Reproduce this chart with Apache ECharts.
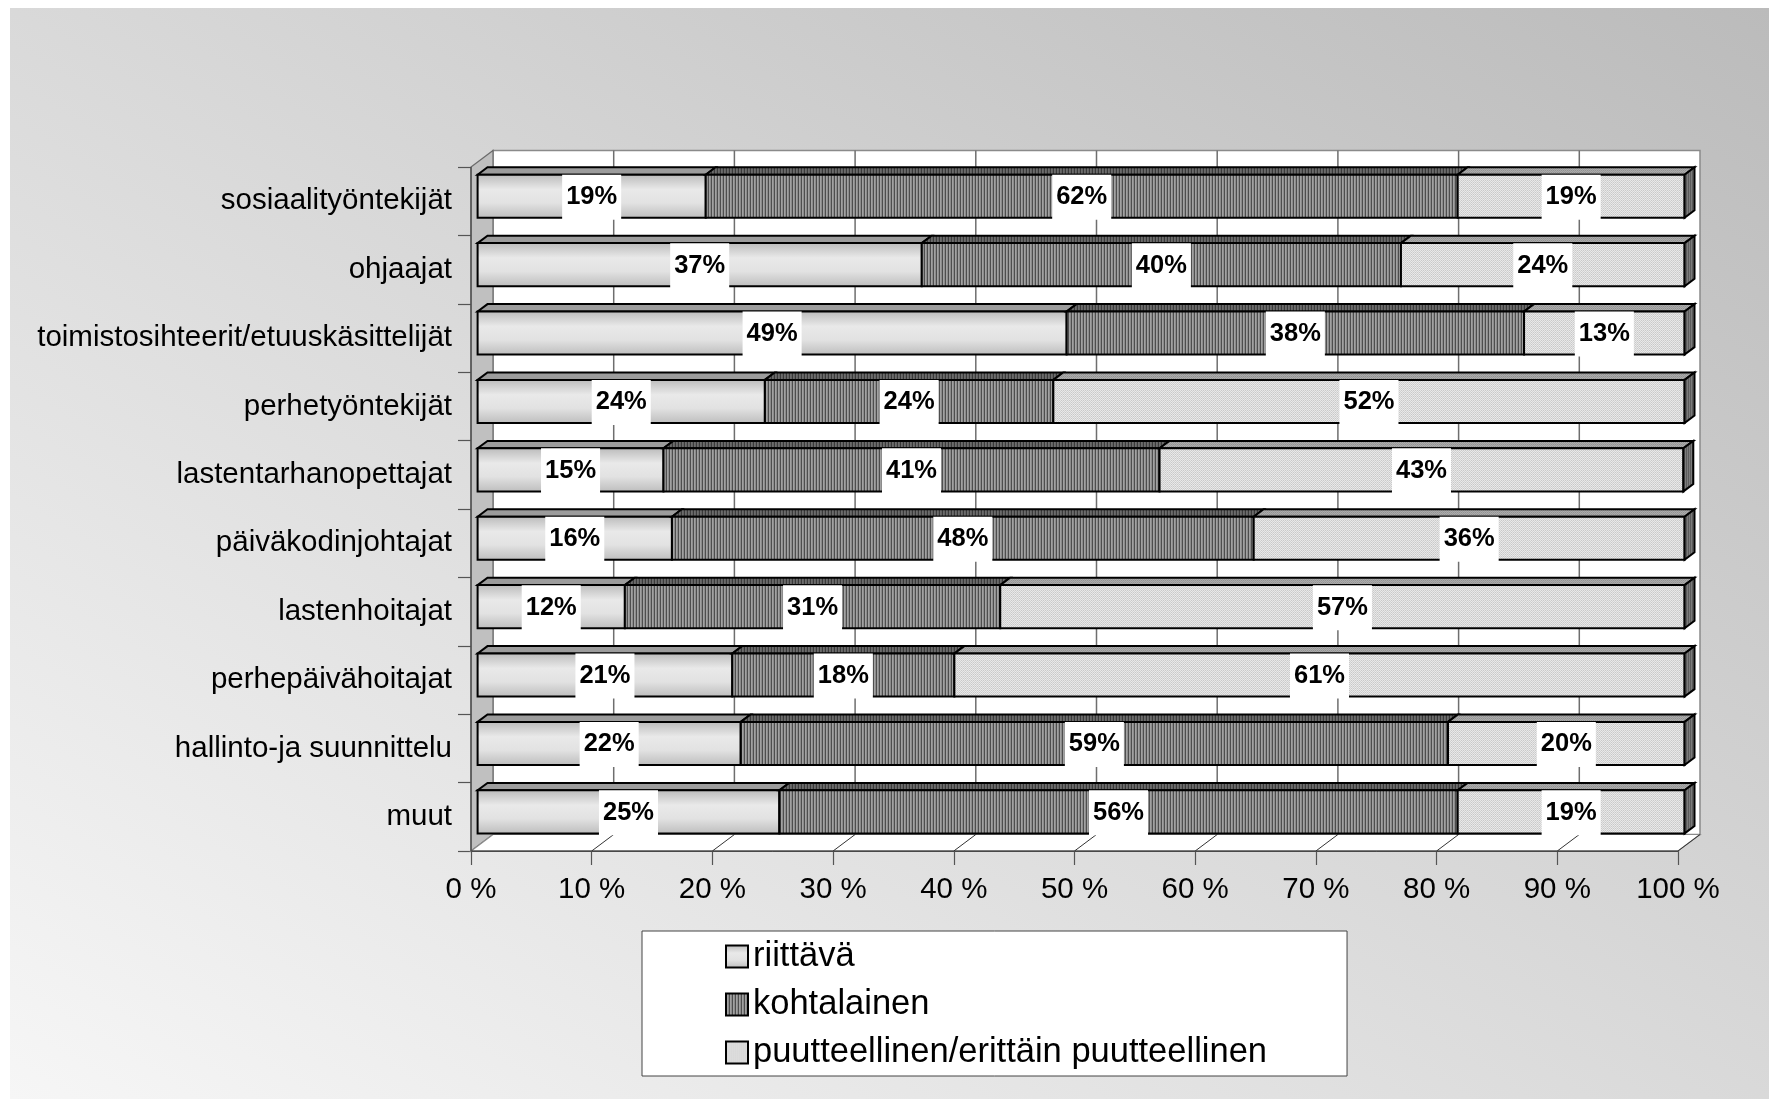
<!DOCTYPE html>
<html><head><meta charset="utf-8">
<script src="https://cdn.jsdelivr.net/npm/echarts@6/dist/echarts.min.js"></script>
<style>
html,body{margin:0;padding:0;background:#fff;overflow:hidden;}
#bg{position:absolute;left:10px;top:8px;width:1759px;height:1091px;background:linear-gradient(to top right,#f6f6f6 0%,#d9d9d9 50%,#bbbbbb 100%);}
#chart{position:absolute;left:0;top:0;width:1769px;height:1099px;}
</style></head><body>
<div id="bg"></div><div id="chart"></div>
<script>
// ---- data ----
const categories = ['sosiaalityöntekijät','ohjaajat','toimistosihteerit/etuuskäsittelijät','perhetyöntekijät','lastentarhanopettajat','päiväkodinjohtajat','lastenhoitajat','perhepäivähoitajat','hallinto-ja suunnittelu','muut'];
const seriesNames = ['riittävä','kohtalainen','puutteellinen/erittäin puutteellinen'];
const riittava      = [18.9, 36.8, 48.8, 23.8, 15.4, 16.1, 12.2, 21.1, 21.8, 25.0];
const kohtalainen   = [62.3, 39.7, 37.9, 23.9, 41.1, 48.2, 31.1, 18.4, 58.6, 56.2];
const puutteellinen = [18.8, 23.5, 13.3, 52.3, 43.4, 35.7, 56.7, 60.5, 19.6, 18.8];
const xTicks = [0, 10, 20, 30, 40, 50, 60, 70, 80, 90, 100];
const seriesData = [riittava, kohtalainen, puutteellinen];

// ---- styles ----
const FONT = "'Liberation Sans', Arial, sans-serif";
const DX = 22, DY = -16.5;          // 3D depth of the plot box
function pat(w, h, cols) {
  const c = document.createElement('canvas');
  c.width = w; c.height = h;
  const g = c.getContext('2d');
  for (let y = 0; y < h; y++) for (let x = 0; x < w; x++) {
    g.fillStyle = cols[y * w + x]; g.fillRect(x, y, 1, 1);
  }
  return { image: c, repeat: 'repeat' };
}
const riitFront = { type: 'linear', x: 0, y: 0, x2: 0, y2: 1, colorStops: [
  { offset: 0, color: '#b9b9b9' }, { offset: 0.35, color: '#e9e9e9' },
  { offset: 0.65, color: '#e2e2e2' }, { offset: 1, color: '#bcbcbc' }] };
const kohtFront = pat(3, 1, ['#4e4e4e', '#a2a2a2', '#8c8c8c']);
const puutFront = pat(2, 2, ['#e6e6e6', '#c9c9c9', '#d2d2d2', '#eaeaea']);
const frontFill = [riitFront, kohtFront, puutFront];
const topFill = ['#9c9c9c', pat(3, 1, ['#3a3a3a', '#6c6c6c', '#626262']), pat(2, 2, ['#aaaaaa', '#929292', '#9c9c9c', '#adadad'])];
const sideFill = pat(2, 1, ['#5c5c5c', '#7c7c7c']);

function barRender(k) {
  return function (params, api) {
    const i = params.dataIndex;
    let start = 0;
    for (let j = 0; j < k; j++) start += seriesData[j][i];
    const v = api.value(0);
    const end = start + v;
    const pS = api.coord([start, i]);
    const pE = api.coord([end, i]);
    const band = api.size([0, 1])[1];
    const ox = 0.3 * DX, oy = 0.3 * DY;
    const bdx = 0.45 * DX, bdy = 0.45 * DY;
    const x0 = pS[0] + ox, x1 = pE[0] + ox;
    const cy = pS[1] + oy;
    const h = band * 0.63;
    const top = cy - h / 2;
    const st = { stroke: '#000', lineWidth: 2, lineJoin: 'miter' };
    const children = [
      { type: 'polygon', shape: { points: [[x0, top], [x0 + bdx, top + bdy], [x1 + bdx, top + bdy], [x1, top]] },
        style: Object.assign({ fill: topFill[k] }, st) },
      { type: 'rect', shape: { x: x0, y: top, width: x1 - x0, height: h },
        style: Object.assign({ fill: frontFill[k] }, st) }
    ];
    if (k === seriesData.length - 1) {
      children.push({ type: 'polygon', shape: { points: [[x1, top], [x1 + bdx, top + bdy], [x1 + bdx, top + h + bdy], [x1, top + h]] },
        style: Object.assign({ fill: sideFill }, st) });
    }
    children.push({ type: 'text', z2: 100, style: {
      text: Math.round(v) + '%', x: (x0 + x1) / 2, y: cy + 1,
      font: 'bold 25.5px ' + FONT, fill: '#000', align: 'center', verticalAlign: 'middle',
      backgroundColor: '#ffffff', padding: [10, 4, 9, 4] } });
    return { type: 'group', children: children };
  };
}

function wallRender(params, api) {
  const cs = params.coordSys;
  const L = cs.x, R = cs.x + cs.width, T = cs.y, B = cs.y + cs.height;
  const xv = api.coord([api.value(0), 0])[0];
  const children = [];
  if (params.dataIndex === 0) {
    children.push({ type: 'rect', shape: { x: L + DX, y: T + DY, width: R - L, height: B - T },
      style: { fill: '#ffffff', stroke: '#8a8a8a', lineWidth: 1.5 } });
    children.push({ type: 'polygon', shape: { points: [[L, T], [L + DX, T + DY], [L + DX, B + DY], [L, B]] },
      style: { fill: '#c0c0c0', stroke: '#6a6a6a', lineWidth: 1.2 } });
    children.push({ type: 'polygon', shape: { points: [[L, B], [L + DX, B + DY], [R + DX, B + DY], [R, B]] },
      style: { fill: '#ffffff', stroke: '#8a8a8a', lineWidth: 1.2 } });
    children.push({ type: 'line', shape: { x1: L, y1: B, x2: R, y2: B }, style: { stroke: '#333', lineWidth: 1.2 } });
    children.push({ type: 'line', shape: { x1: L, y1: T, x2: L, y2: B }, style: { stroke: '#444', lineWidth: 1.2 } });
  }
  if (params.dataIndex > 0 && params.dataIndex < xTicks.length - 1) {
    children.push({ type: 'line', shape: { x1: xv + DX, y1: T + DY, x2: xv + DX, y2: B + DY },
      style: { stroke: '#6e6e6e', lineWidth: 1.5 } });
  }
  if (params.dataIndex > 0) {
    children.push({ type: 'line', shape: { x1: xv, y1: B, x2: xv + DX, y2: B + DY },
      style: { stroke: '#333', lineWidth: 1 } });
  }
  return { type: 'group', children: children };
}

const chart = echarts.init(document.getElementById('chart'), null, { renderer: 'canvas' });
const series = [{
  type: 'custom', name: '_walls', z: 1, silent: true,
  renderItem: wallRender, data: xTicks.map(t => [t, 0]), encode: { x: 0, y: 1 }
}];
seriesData.forEach((arr, k) => {
  series.push({
    type: 'custom', name: seriesNames[k], z: 2,
    itemStyle: { color: frontFill[k], borderColor: '#000', borderWidth: 2 },
    renderItem: barRender(k),
    data: arr.map((v, i) => [v, i]), encode: { x: 0, y: 1 }
  });
});

chart.setOption({
  animation: false,
  backgroundColor: 'transparent',
  grid: { left: 471, top: 167, width: 1207, height: 684, containLabel: false },
  xAxis: {
    type: 'value', min: 0, max: 100, interval: 10,
    axisLine: { show: true, lineStyle: { color: '#333', width: 1 } },
    axisTick: { show: true, length: 14, lineStyle: { color: '#555', width: 1.2 } },
    splitLine: { show: false },
    axisLabel: { formatter: '{value} %', fontSize: 29.5, color: '#000', fontFamily: FONT, margin: 24 }
  },
  yAxis: {
    type: 'category', data: categories, inverse: true,
    axisLine: { show: true, lineStyle: { color: '#444', width: 1 } },
    axisTick: { show: true, length: 13, lineStyle: { color: '#555', width: 1.2 } },
    splitLine: { show: false },
    axisLabel: { fontSize: 29.5, color: '#000', fontFamily: FONT, margin: 19 }
  },
  legend: {
    orient: 'vertical', left: 642, top: 931,
    backgroundColor: '#ffffff', borderColor: '#444', borderWidth: 1,
    padding: [8, 80, 6, 83],
    itemWidth: 22, itemHeight: 22, itemGap: 13,
    selectedMode: false,
    textStyle: { fontSize: 34.5, lineHeight: 34, color: '#000', fontFamily: FONT },
    data: seriesNames.map((n, k) => ({ name: n, icon: 'rect',
      itemStyle: { color: frontFill[k], borderColor: '#000', borderWidth: 2 } }))
  },
  series: series
});
</script>
</body></html>
